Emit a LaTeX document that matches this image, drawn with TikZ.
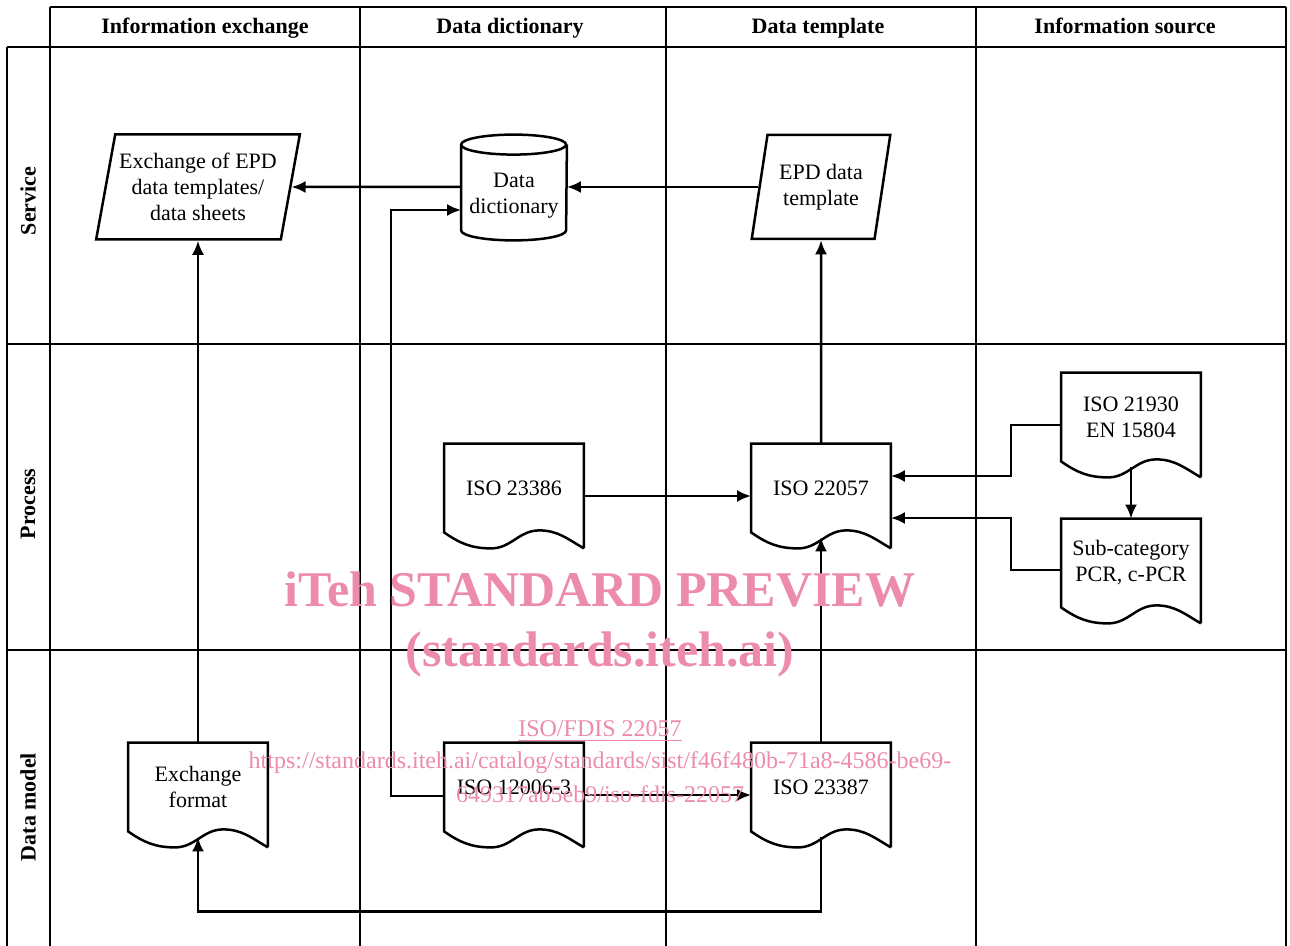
\documentclass[tikz,border=0pt]{standalone}
\usepackage{fontspec}
\setmainfont{Liberation Serif}
\usepackage{xcolor}
\usepackage{tikz}
\usetikzlibrary{arrows.meta,shapes.geometric}
\definecolor{wmpink}{RGB}{236,140,170}
\tikzset{
  lane/.style = {line width=0.6pt},% grille
  lane_h/.style = {font=\bfseries\fontsize{11}{13}\selectfont, inner sep=0pt},% titre
  flowbox/.style = {inner sep=0pt, align=center, text centered,
    font=\fontsize{11}{13}\selectfont},
  shapeline/.style = {line width=1.25pt},
  doc_n/.style = {flowbox, minimum width=69.5pt, minimum height=44pt},% document
  slant_n/.style = {flowbox, draw, shapeline, trapezium, trapezium left angle=75,
    trapezium right angle=105, trapezium stretches=true},% donnees
  db_n/.style = {flowbox, minimum width=52.5pt, minimum height=40pt},% base
  wmark/.style = {text=wmpink, inner sep=0pt},% filigrane
  link/.style = {->, line width=1.25pt}
}
\newcommand{\docwave}[1]{%
  \draw[shapeline] ([yshift=-8pt]#1.south east) -- (#1.north east)
    -- (#1.north west) -- (#1.south west)
    to[out=-35,in=180] ([xshift=23.5pt,yshift=-8pt]#1.south west)
    to[out=0,in=180] ([xshift=47.5pt,yshift=1pt]#1.south west)
    to[out=0,in=150] ([yshift=-8pt]#1.south east);}
\newcommand{\dbdrum}[1]{%
  \draw[shapeline] ([yshift=5.5pt]#1.north west)
    arc[start angle=180,end angle=360,x radius=26.25pt,y radius=5pt]
    arc[start angle=0,end angle=180,x radius=26.25pt,y radius=5pt]
    -- ([yshift=3pt]#1.south west)
    arc[start angle=180,end angle=360,x radius=26.25pt,y radius=5pt]
    -- ([yshift=5.5pt]#1.north east);}

\begin{document}
\begin{tikzpicture}[x=0.5pt, y=0.5pt, >={Latex[length=7pt,width=6pt]}]
\useasboundingbox (0,0) rectangle (1290,-946);
% lanes
\draw[lane] (50,-7) -- (1286,-7);
\foreach \y in {47,344,650}
  \draw[lane] (7,-\y) -- (1286,-\y);
\draw[lane] (7,-47) -- (7,-946);
\foreach \x in {50,360,666,976,1286}
  \draw[lane] (\x,-7) -- (\x,-946);
\foreach \x/\t/\n in {205/Information exchange/ie, 510/Data dictionary/dd,
    818/Data template/dt, 1125/Information source/is}
  \node[lane_h, anchor=base] (head_\n) at (\x,-34) {\t};
\node[lane_h, rotate=90] (row_srv) at (28,-201) {Service};
\node[lane_h, rotate=90] (row_prc) at (28,-504) {Process};
\node[lane_h, rotate=90] (row_dm) at (28,-807) {Data model};

% service
\node[slant_n, minimum width=102pt, minimum height=52.5pt] (exch) at (198,-187)
  {Exchange of EPD\\data templates/\\data sheets};
\node[db_n] (dict) at (514,-196) {Data\\dictionary};
\dbdrum{dict}
\node[slant_n, minimum width=69.5pt, minimum height=52pt] (epd) at (821,-187)
  {EPD data\\template};

% process
\node[doc_n] (iso23386) at (514,-488) {ISO 23386};
\node[doc_n] (iso22057) at (821,-488) {ISO 22057};
\node[doc_n] (iso21930) at (1131,-417) {ISO 21930\\EN 15804};
\node[doc_n] (subcat) at (1131,-563) {Sub-category\\PCR, c-PCR};

% data model
\node[doc_n] (exfmt) at (198,-787) {Exchange\\format};
\node[doc_n] (iso12006) at (514,-787) {ISO 12006-3};
\node[doc_n] (iso23387) at (821,-787) {ISO 23387};
\foreach \d in {iso23386,iso22057,iso21930,subcat,exfmt,iso12006,iso23387}
  {\docwave{\d}}

% links
\draw[link] ([yshift=4.5pt]dict.west) -- (exch);
\draw[link] (epd) -- ([yshift=4.5pt]dict.east);
\draw[link] ([yshift=-4.5pt]iso12006.west) -- ++(-53,0) |- ([yshift=-7pt]dict.west);
\draw[link] ([yshift=-4pt]iso23386.east) -- ([yshift=-4pt]iso22057.west);
\draw[link] (iso22057) -- (epd);
\draw[link] ([yshift=-4pt]iso21930.west) -- ++(-50,0) |- ([yshift=6pt]iso22057.east);
\draw[link] ([yshift=-3.5pt]subcat.west) -- ++(-50,0) |- ([yshift=-15pt]iso22057.east);
\draw[link] ([yshift=-3pt]iso21930.south) -- (subcat);
\draw[link] (iso23387) -- ([yshift=-2.5pt]iso22057.south);
\draw[link] ([yshift=-4pt]iso12006.east) -- ([yshift=-4pt]iso23387.west);
\draw[link] ([yshift=-3pt]iso23387.south) -- ++(0,-74) -| ([yshift=-3pt]exfmt.south);
\draw[link] (exfmt) -- (exch);

% watermark
\node[wmark, font=\bfseries\fontsize{25}{27}\selectfont] (wm_title) at (600,-590)
  {iTeh STANDARD PREVIEW};
\node[wmark, font=\bfseries\fontsize{25}{27}\selectfont] (wm_site) at (600,-654)
  {(standards.iteh.ai)};
\node[wmark, font=\fontsize{12}{14}\selectfont] (wm_iso) at (600,-731)
  {\underline{ISO/FDIS 22057}};
\node[wmark, font=\fontsize{12}{14}\selectfont] (wm_url) at (600,-763)
  {https://standards.iteh.ai/catalog/standards/sist/f46f480b-71a8-4586-be69-};
\node[wmark, font=\fontsize{12}{14}\selectfont] (wm_url2) at (600,-794)
  {649317ab5eb9/iso-fdis-22057};
\end{tikzpicture}
\end{document}
